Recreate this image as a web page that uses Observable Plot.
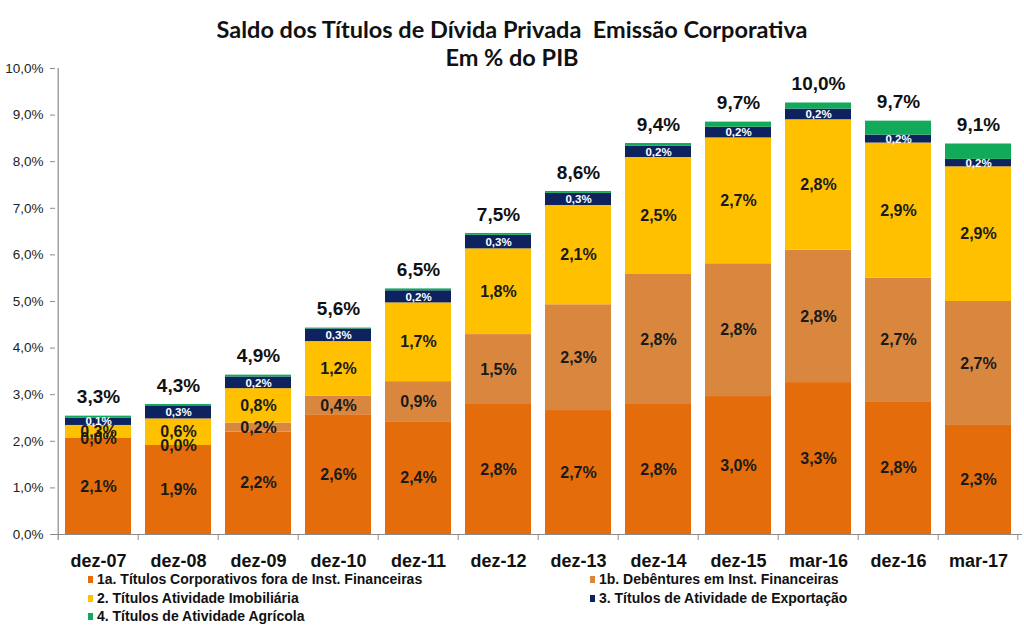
<!DOCTYPE html>
<html><head><meta charset="utf-8">
<script src="https://cdn.jsdelivr.net/npm/d3@7"></script>
<script src="https://cdn.jsdelivr.net/npm/@observablehq/plot@0.6"></script>
<style>
body{margin:0;background:#fff;font-family:Arial,"Liberation Sans",Helvetica,sans-serif;}
#wrap{position:relative;width:1024px;height:635px;overflow:hidden;background:#fff;}
#chart{position:absolute;top:0;left:0;}
#title{position:absolute;top:15px;left:0;width:1024px;text-align:center;font-family:Lato,"Open Sans",sans-serif;font-weight:bold;font-size:23.5px;line-height:28px;color:#111;}
.leg{position:absolute;height:14px;line-height:14px;font-size:14px;font-weight:bold;color:#111;white-space:nowrap;font-family:Arial,"Liberation Sans",sans-serif;}
.leg span{display:inline-block;width:5px;height:7px;margin-right:4px;vertical-align:1px;}
</style></head>
<body>
<div id="wrap">
  <div id="chart"></div>
  <div id="title">Saldo dos Títulos de Dívida Privada&nbsp; Emissão Corporativa<br>Em % do PIB</div>
  <div id="legend"></div>
</div>
<script>
const categories = ["dez-07","dez-08","dez-09","dez-10","dez-11","dez-12","dez-13","dez-14","dez-15","mar-16","dez-16","mar-17"];
const seriesNames = [
  "1a. Títulos Corporativos fora de Inst. Financeiras",
  "1b. Debêntures em Inst. Financeiras",
  "2. Títulos Atividade Imobiliária",
  "3. Títulos de Atividade de Exportação",
  "4. Títulos de Atividade Agrícola"
];
const colors = ["#E46C0A", "#D9873F", "#FFC000", "#0E2260", "#11A95A"];

// bar heights as drawn (% do PIB)
const s1a = [2.06, 1.91, 2.20, 2.57, 2.42, 2.79, 2.66, 2.79, 2.96, 3.26, 2.85, 2.34];
const s1b = [0.00, 0.00, 0.19, 0.40, 0.86, 1.50, 2.27, 2.79, 2.85, 2.84, 2.65, 2.66];
const s2  = [0.28, 0.57, 0.74, 1.17, 1.69, 1.84, 2.13, 2.51, 2.70, 2.80, 2.90, 2.89];
const s3  = [0.16, 0.28, 0.25, 0.27, 0.26, 0.29, 0.26, 0.24, 0.23, 0.23, 0.17, 0.16];
const s4  = [0.04, 0.03, 0.04, 0.02, 0.04, 0.04, 0.04, 0.06, 0.11, 0.13, 0.30, 0.33];

// data labels as printed
const lbl1a = ["2,1%","1,9%","2,2%","2,6%","2,4%","2,8%","2,7%","2,8%","3,0%","3,3%","2,8%","2,3%"];
const lbl1b = ["0,0%","0,0%","0,2%","0,4%","0,9%","1,5%","2,3%","2,8%","2,8%","2,8%","2,7%","2,7%"];
const lbl2  = ["0,3%","0,6%","0,8%","1,2%","1,7%","1,8%","2,1%","2,5%","2,7%","2,8%","2,9%","2,9%"];
const lbl3  = ["0,1%","0,3%","0,2%","0,3%","0,2%","0,3%","0,3%","0,2%","0,2%","0,2%","0,2%","0,2%"];
const totalLabels = ["3,3%","4,3%","4,9%","5,6%","6,5%","7,5%","8,6%","9,4%","9,7%","10,0%","9,7%","9,1%"];
const yTicks = [0,1,2,3,4,5,6,7,8,9,10];

const seriesValues = [s1a, s1b, s2, s3, s4];
const seriesLabels = [lbl1a, lbl1b, lbl2, lbl3, null];
const rows = [];
seriesValues.forEach((vals, s) => {
  vals.forEach((v, i) => {
    rows.push({cat: categories[i], series: seriesNames[s], s, value: v,
               label: seriesLabels[s] ? seriesLabels[s][i] : null});
  });
});
const totals = categories.map((c, i) => seriesValues.reduce((a, arr) => a + arr[i], 0));

const W = 1024, mL = 55, mR = 2;
const half = (W - mL - mR) / categories.length / 2;
const axisColor = "#8c8c8c";

const chart = Plot.plot({
  width: W, height: 574,
  marginTop: 68, marginBottom: 40, marginLeft: mL, marginRight: mR,
  x: {domain: categories, paddingInner: 0.17, paddingOuter: 0.085, axis: null, label: null},
  y: {domain: [0, 10], axis: null, label: null},
  color: {domain: seriesNames, range: colors},
  style: {fontFamily: "Arial, Helvetica, sans-serif", background: "white", overflow: "visible"},
  marks: [
    Plot.barY(rows, Plot.stackY({x: "cat", y: "value", fill: "series", order: null})),
    Plot.text(rows, Plot.stackY({x: "cat", y: "value", z: "series", order: null,
      text: d => (d.s <= 2 ? d.label : null), fontSize: 16, fontWeight: "bold", fill: "#1a1a1a"})),
    Plot.text(rows, Plot.stackY({x: "cat", y: "value", z: "series", order: null,
      text: d => (d.s === 3 ? d.label : null), fontSize: 11.5, fontWeight: "bold", fill: "white"})),
    Plot.text(categories, {x: d => d, y: (d, i) => totals[i], text: (d, i) => totalLabels[i],
      dy: -19, fontSize: 19, fontWeight: "bold", fill: "#111"}),
    Plot.ruleY([0], {stroke: axisColor, strokeWidth: 1.2}),
    Plot.ruleX([categories[0]], {dx: -half, y1: -0.13, y2: 10, stroke: axisColor, strokeWidth: 1.2}),
    Plot.ruleX(categories.slice(1), {dx: -half, y1: 0, y2: -0.13, stroke: axisColor}),
    Plot.ruleX([categories[categories.length - 1]], {dx: half - 1, y1: 0, y2: -0.13, stroke: axisColor}),
    Plot.axisY({ticks: yTicks, tickSize: 5, tickPadding: 7, stroke: axisColor,
      tickFormat: d => d.toFixed(1).replace(".", ",") + "%", fontSize: 13.5, fill: "#222"}),
    Plot.axisX({tickSize: 0, tickPadding: 20, fontSize: 18, fontWeight: "bold", fill: "#111"})
  ]
});
document.getElementById("chart").appendChild(chart);

const legendPos = [[88, 572], [590, 572], [88, 590.5], [590, 590.5], [88, 609]];
const legend = document.getElementById("legend");
seriesNames.forEach((name, s) => {
  const div = document.createElement("div");
  div.className = "leg";
  div.style.left = legendPos[s][0] + "px";
  div.style.top = legendPos[s][1] + "px";
  div.innerHTML = `<span style="background:${colors[s]}"></span>${name}`;
  legend.appendChild(div);
});
</script>
</body></html>
